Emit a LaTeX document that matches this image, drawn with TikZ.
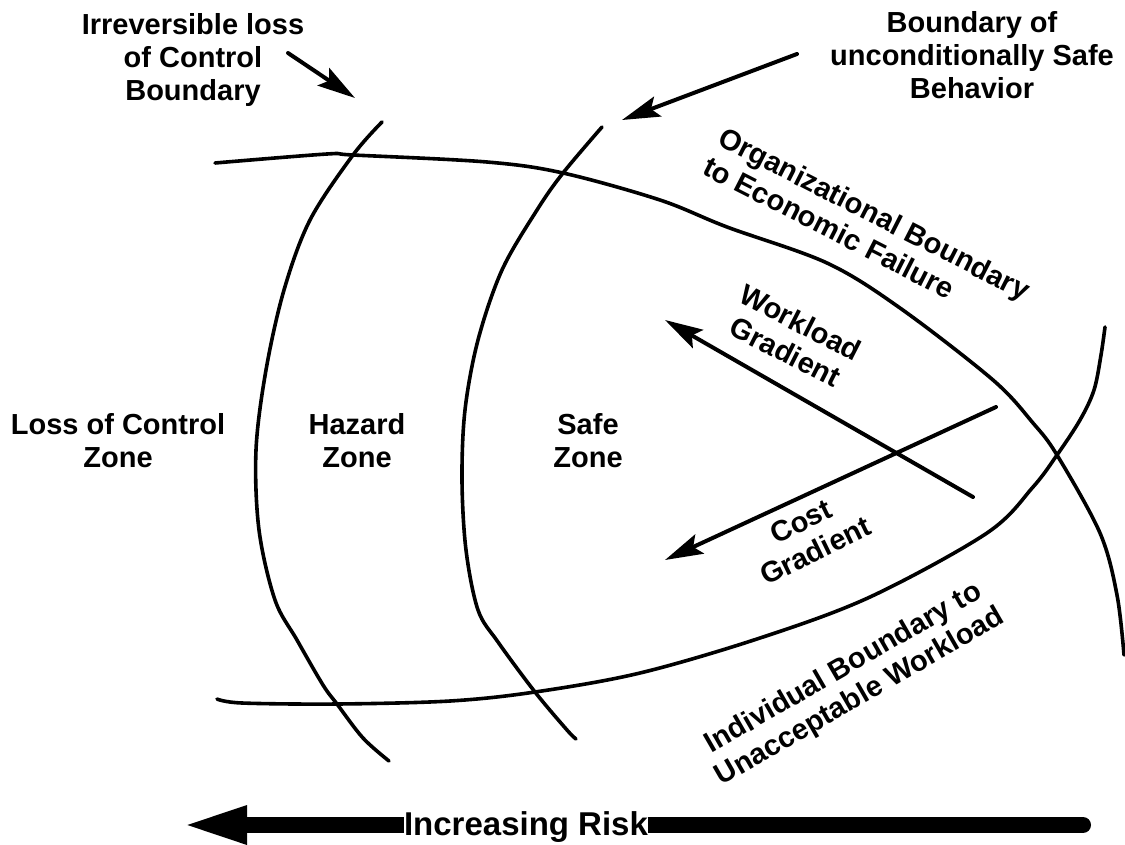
\documentclass[tikz,border=0pt]{standalone}
\usepackage{fontspec}
\setmainfont{Liberation Sans}
\usetikzlibrary{arrows.meta}
\begin{document}
\begin{tikzpicture}[x=1pt,y=-1pt,
  bnd/.style={line width=3.6pt, line cap=round, line join=round},
  arr/.style={line width=4pt, line cap=round, -{Stealth[length=38pt,width=21pt,inset=7pt]}},
  lab/.style={font=\bfseries\fontsize{29}{33}\selectfont, align=center, inner sep=0pt},
  risklab/.style={font=\bfseries\fontsize{33}{36}\selectfont, fill=white, inner sep=0pt, anchor=base},
  bigarr/.style={line width=16pt, line cap=round, -{Triangle[length=67pt,width=34pt]}}
]
\fill[white] (0,0) rectangle (1125,844);
\useasboundingbox (0,0) rectangle (1125,844);

% boundaries
\draw[bnd] plot[smooth, tension=0.55] coordinates {(382,122) (353,155) (310,220) (284,290) (266,370) (256,450) (259,530) (275,600) (297,640) (323,685) (337,704) (363,738) (389,761)};
\draw[bnd] plot[smooth, tension=0.55] coordinates {(602,127) (563,173) (537,210) (502,270) (478,340) (465,410) (462,480) (466,550) (478,610) (498,642) (535,692) (567,730) (576,739)};
\draw[bnd] plot[smooth, tension=0.55] coordinates {(215,163) (327,154) (353,155) (487,162) (563,173) (660,200) (727,227) (827,263) (900,308) (993,380) (1033,423) (1057,455) (1100,533) (1117,595) (1124,655)};
\draw[bnd] plot[smooth, tension=0.55] coordinates {(217,699) (242,703) (337,704) (450,701) (535,692) (640,673) (760,638) (870,597) (987,533) (1033,487) (1057,455) (1080,420) (1094,390) (1101,355) (1105,327)};

% labels
\node[lab] (irr) at (193,60) {Irreversible loss\\of Control\\Boundary};
\node[lab] (usb) at (972,55) {Boundary of\\unconditionally Safe\\Behavior};
\node[lab] (loc) at (118,441) {Loss of Control\\Zone};
\node[lab] (haz) at (357,441) {Hazard\\Zone};
\node[lab] (safe) at (588,441) {Safe\\Zone};
\node[lab, align=left, rotate=-27] (org) at (867,228) {Organizational Boundary\\to Economic Failure};
\node[lab, rotate=-27] (wg) at (793,337) {Workload\\Gradient};
\node[lab, rotate=26] (cg) at (808,536) {Cost\\Gradient};
\node[lab, rotate=30] (ind) at (852,683) {Individual Boundary to\\Unacceptable Workload};

% arrows
\coordinate (irrS) at (288,53);  \coordinate (irrT) at (355,98);
\coordinate (usbS) at (797,54);  \coordinate (usbT) at (622,120);
\coordinate (wgS) at (973,497);  \coordinate (wgT) at (665,320);
\coordinate (cgS) at (996,407);  \coordinate (cgT) at (665,560);
\draw[arr] (irrS) -- (irrT);
\draw[arr] (usbS) -- (usbT);
\draw[arr] (wgS) -- (wgT);
\draw[arr] (cgS) -- (cgT);

% increasing risk
\coordinate (riskR) at (1083,825);
\coordinate (riskL) at (180,825);
\draw[bigarr] (riskR) -- (riskL);
\node[risklab] (risk) at (526,835) {Increasing Risk};
\end{tikzpicture}
\end{document}
